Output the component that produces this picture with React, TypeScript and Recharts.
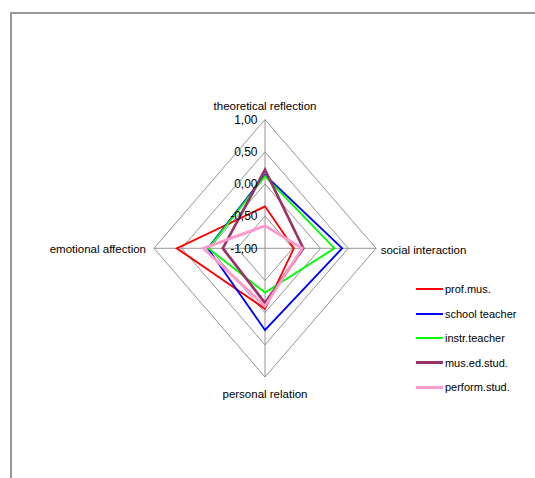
import React from "react";
import { RadarChart, Radar, PolarGrid, PolarAngleAxis, PolarRadiusAxis, Legend } from "recharts";

// axes, clockwise from the top
const categories = ["theoretical reflection", "social interaction", "personal relation", "emotional affection"];
const radialTicks = [-1, -0.5, 0, 0.5, 1];
const seriesNames = ["prof.mus.", "school teacher", "instr.teacher", "mus.ed.stud.", "perform.stud."];

const profMus = [-0.35, -0.48, -0.06, 0.59];
const schoolTeacher = [0.14, 0.39, 0.27, 0.03];
const instrTeacher = [0.12, 0.25, -0.31, 0.02];
const musEdStud = [0.22, -0.31, -0.15, -0.24];
const performStud = [-0.65, -0.33, -0.1, 0.11];

const seriesValues = [profMus, schoolTeacher, instrTeacher, musEdStud, performStud];

// line styles, same order as seriesNames
const seriesStyle = [
  { color: "#ff0000", width: 2 },
  { color: "#0000ff", width: 2 },
  { color: "#00ff00", width: 2 },
  { color: "#993366", width: 3 },
  { color: "#ff99cc", width: 3 },
];

const rows = categories.map((axis, i) => {
  const row: Record<string, string | number> = { axis };
  seriesValues.forEach((vals, s) => {
    row["s" + s] = vals[i];
  });
  return row;
});

const FONT = "'Liberation Sans', Arial, sans-serif";
const CX = 265;
const CY = 248.3;
const R = 128.7;
const SX = 0.8625; // the original diamond is narrower than it is tall

const fmt = (v: number) => v.toFixed(2).replace(".", ",");

const AngleTick = (props: any) => {
  const { x, y, payload } = props;
  let ox = 0;
  let oy = 0;
  let anchor = "middle";
  if (Math.abs(x - CX) < 1) {
    oy = y < CY ? -1.6 : 13;
  } else if (x > CX) {
    anchor = "start";
    ox = -2.2;
    oy = 5.7;
  } else {
    anchor = "end";
    ox = -1.1;
    oy = 4.7;
  }
  return (
    <g transform={`translate(${x},${y}) scale(${1 / SX},1)`}>
      <text x={ox} y={oy} textAnchor={anchor} fontSize={11.5} fontFamily={FONT} fill="#000">
        {payload.value}
      </text>
    </g>
  );
};

const RadiusTick = (props: any) => {
  const { x, y, payload } = props;
  return (
    <g transform={`translate(${x},${y}) scale(${1 / SX},1)`}>
      <text x={-7.5} y={0} dy="0.36em" textAnchor="end" fontSize={12} fontFamily={FONT} fill="#000">
        {fmt(payload.value)}
      </text>
    </g>
  );
};

const LegendContent = () => (
  <div style={{ transform: `scaleX(${1 / SX})`, transformOrigin: "left top", fontFamily: FONT }}>
    {seriesNames.map((name, i) => (
      <div key={name} style={{ display: "flex", alignItems: "center", height: 24.5, whiteSpace: "nowrap" }}>
        <div style={{ width: 27, height: seriesStyle[i].width, background: seriesStyle[i].color }} />
        <span style={{ fontSize: 11, marginLeft: 2, color: "#000" }}>{name}</span>
      </div>
    ))}
  </div>
);

export default function App() {
  return (
    <div
      style={{
        position: "absolute",
        left: 0,
        top: 0,
        width: 535,
        height: 478,
        overflow: "hidden",
        background: "#fff",
        fontFamily: FONT,
      }}
    >
      <div
        style={{
          position: "absolute",
          left: 10,
          top: 12,
          width: 700,
          height: 700,
          borderTop: "2px solid #999",
          borderLeft: "2px solid #999",
        }}
      />
      <div
        style={{
          position: "absolute",
          left: 0,
          top: 0,
          transform: `scaleX(${SX})`,
          transformOrigin: `${CX}px 0px`,
        }}
      >
        <RadarChart
          width={535}
          height={478}
          data={rows}
          cx={CX}
          cy={CY}
          outerRadius={R}
          margin={{ top: 0, right: 0, bottom: 0, left: 0 }}
        >
          <PolarGrid gridType="polygon" stroke="#8c8c8c" strokeWidth={1} />
          <PolarAngleAxis dataKey="axis" tick={<AngleTick />} tickLine={false} axisLine={false} />
          <PolarRadiusAxis
            angle={90}
            type="number"
            domain={[-1, 1]}
            ticks={radialTicks as any}
            tickCount={5}
            axisLine={false}
            tickLine={false}
            tick={<RadiusTick />}
          />
          {seriesNames.map((name, i) => (
            <Radar
              key={name}
              name={name}
              dataKey={"s" + i}
              stroke={seriesStyle[i].color}
              strokeWidth={seriesStyle[i].width}
              fill="none"
              fillOpacity={0}
              dot={false}
              isAnimationActive={false}
            />
          ))}
          <Legend
            layout="vertical"
            verticalAlign="top"
            align="left"
            content={<LegendContent />}
            wrapperStyle={{ left: CX + (416 - CX) / SX, top: 276.75, bottom: "auto", width: "auto" }}
          />
        </RadarChart>
      </div>
    </div>
  );
}
